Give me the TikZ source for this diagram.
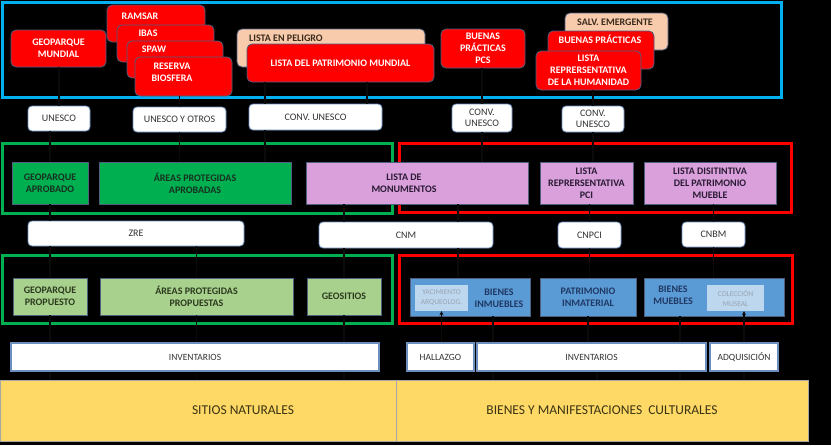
\documentclass[tikz,border=0pt]{standalone}
\usepackage{fontspec}
\setmainfont{Carlito}
\usetikzlibrary{arrows.meta}
\definecolor{boxred}{HTML}{FF0000}
\definecolor{bcol}{HTML}{4E5F80}
\definecolor{peachc}{HTML}{F8CBAD}
\definecolor{peachtxt}{HTML}{3A2A1A}
\definecolor{wborder}{HTML}{6C8EBF}
\definecolor{wtxt}{HTML}{333333}
\definecolor{greenA}{HTML}{00B050}
\definecolor{greentxt}{HTML}{173020}
\definecolor{violetA}{HTML}{D9A0DC}
\definecolor{violettxt}{HTML}{2A1A33}
\definecolor{lgreen}{HTML}{A9D18E}
\definecolor{lgtxt}{HTML}{2B3A1E}
\definecolor{blueA}{HTML}{5B9BD5}
\definecolor{bluetxt}{HTML}{1F3864}
\definecolor{lblue}{HTML}{BDD7EE}
\definecolor{lbtxt}{HTML}{98A4B2}
\definecolor{yellowA}{HTML}{FFD966}
\definecolor{ytxt}{HTML}{3A3414}
\definecolor{frameblue}{HTML}{00B0F0}
\definecolor{framegreen}{HTML}{00B050}
\definecolor{framered}{HTML}{FF0000}
\definecolor{conncol}{HTML}{0A0A0A}
\newcommand{\mkbox}[7]{\node[#1, minimum width={(#4-#2)*1pt}, minimum height={(#5-#3)*1pt}, inner sep=0pt] (#6) at ({(#2+#4)/2},{(#3+#5)/2}) {#7};}
\tikzset{
  base/.style={draw=bcol, line width=0.8pt, align=center, font=\fontsize{10}{11.5}\selectfont},
  redbox/.style={base, fill=boxred, rounded corners=5pt, text=white, font=\bfseries\fontsize{10}{12.2}\selectfont},
  peachbox/.style={base, fill=peachc, rounded corners=5pt, text=peachtxt, font=\bfseries\fontsize{10}{12}\selectfont},
  rtext/.style={text=white, font=\bfseries\fontsize{10}{12.2}\selectfont, align=center, inner sep=0pt},
  ptext/.style={text=peachtxt, font=\bfseries\fontsize{10}{12}\selectfont, inner sep=0pt},
  wbox/.style={base, fill=white, draw=wborder, rounded corners=4pt, text=wtxt},
  wsq/.style={base, fill=white, draw=wborder, line width=1.2pt, text=wtxt, font=\fontsize{9.5}{11}\selectfont},
  gbox/.style={base, fill=greenA, text=greentxt, font=\bfseries\fontsize{10}{12}\selectfont},
  vbox/.style={base, fill=violetA, text=violettxt, font=\bfseries\fontsize{10}{12}\selectfont},
  vtext/.style={text=violettxt, font=\bfseries\fontsize{10}{12}\selectfont, align=center, inner sep=0pt},
  lgbox/.style={base, fill=lgreen, text=lgtxt, font=\bfseries\fontsize{10}{12}\selectfont},
  bbox/.style={base, fill=blueA, text=bluetxt, font=\bfseries\fontsize{10}{12}\selectfont},
  btext/.style={text=bluetxt, font=\bfseries\fontsize{10}{12}\selectfont, align=center, inner sep=0pt},
  lbbox/.style={fill=lblue, text=lbtxt, align=center, font=\fontsize{7.5}{10}\selectfont},
  ybox/.style={fill=yellowA, draw=black!35, line width=0.5pt},
  ytext/.style={text=ytxt, font=\fontsize{13.5}{15}\selectfont},
  frameB/.style={draw=frameblue, line width=3pt},
  frameG/.style={draw=framegreen, line width=3pt},
  frameR/.style={draw=framered, line width=3pt},
  conn/.style={draw=conncol, line width=1.3pt},
  connarrow/.style={conn, -{Stealth[length=4pt,width=4pt]}}
}
\begin{document}
\begin{tikzpicture}[x=1pt,y=-1pt]
\fill[black] (0,0) rectangle (831,445);
\useasboundingbox (0,0) rectangle (831,445);

% frames
\mkbox{frameB}{2}{2}{781}{97}{fTop}{}
\mkbox{frameG}{2}{143}{392}{213}{fG1}{}
\mkbox{frameR}{399}{143}{791}{212}{fR1}{}
\mkbox{frameG}{2}{255}{392}{323}{fG2}{}
\mkbox{frameR}{399}{255}{792}{323}{fR2}{}

% top level
\mkbox{redbox}{11}{30}{106}{67}{gm}{GEOPARQUE\\MUNDIAL}
\mkbox{redbox}{107}{5}{205}{42}{ram}{}
\node[rtext] at (140,16) {RAMSAR};
\mkbox{redbox}{117}{25}{214}{62}{ibas}{}
\node[rtext] at (148,33) {IBAS};
\mkbox{redbox}{127}{41}{223}{78}{spaw}{}
\node[rtext] at (154,49) {SPAW};
\mkbox{redbox}{135}{57}{232}{96}{rb}{}
\node[rtext] at (172,72.5) {RESERVA\\BIOSFERA};

\mkbox{peachbox}{237}{29}{425}{67}{pel}{}
\node[ptext, anchor=west] at (249,38) {LISTA EN PELIGRO};
\mkbox{redbox}{247}{44}{434}{82}{lpm}{LISTA DEL PATRIMONIO MUNDIAL}

\mkbox{redbox}{441}{29}{525}{68}{bp}{BUENAS\\PRÁCTICAS\\PCS}

\mkbox{peachbox}{565}{13}{668}{50}{se}{}
\node[ptext] at (615,22) {SALV. EMERGENTE};
\mkbox{redbox}{548}{31}{654}{69}{bp2}{}
\node[rtext] at (600,39) {BUENAS PRÁCTICAS};
\mkbox{redbox}{536}{51}{641}{90}{lrh}{LISTA\\REPRERSENTATIVA\\DE LA HUMANIDAD}

% row 2
\mkbox{wbox}{28}{106}{90}{131}{un}{UNESCO}
\mkbox{wbox}{133}{107}{226}{132}{uo}{UNESCO Y OTROS}
\mkbox{wbox}{249}{104}{382}{130}{cu1}{CONV. UNESCO}
\mkbox{wbox}{452}{104}{512}{132}{cu2}{CONV.\\UNESCO}
\mkbox{wbox}{562}{106}{624}{132}{cu3}{CONV.\\UNESCO}

% row 3
\mkbox{gbox}{12}{162}{88}{204}{ga}{GEOPARQUE\\APROBADO}
\mkbox{gbox}{99}{162}{291}{204}{aa}{ÁREAS PROTEGIDAS\\APROBADAS}
\mkbox{vbox}{306}{162}{528}{204}{lm}{}
\node[vtext] at (404,183) {LISTA DE\\MONUMENTOS};
\mkbox{vbox}{540}{162}{633}{204}{lr}{LISTA\\REPRERSENTATIVA\\PCI}
\mkbox{vbox}{644}{162}{776}{204}{ld}{LISTA DISITINTIVA\\DEL PATRIMONIO\\MUEBLE}

% row 4
\mkbox{wbox}{28}{221}{244}{246}{zre}{ZRE}
\mkbox{wbox}{319}{222}{493}{248}{cnm}{CNM}
\mkbox{wbox}{558}{222}{621}{248}{cnpci}{CNPCI}
\mkbox{wbox}{682}{222}{745}{247}{cnbm}{CNBM}

% row 5
\mkbox{lgbox}{13}{278}{87}{315}{gp}{GEOPARQUE\\PROPUESTO}
\mkbox{lgbox}{100}{278}{293}{315}{ap}{ÁREAS PROTEGIDAS\\PROPUESTAS}
\mkbox{lgbox}{307}{278}{381}{315}{gs}{GEOSITIOS}
\mkbox{bbox}{410}{278}{530}{316}{bi}{}
\mkbox{lbbox}{415}{285}{468}{311}{ya}{YACIMIENTO\\ARQUEOLOG.}
\node[btext] at (499,298) {BIENES\\INMUEBLES};
\mkbox{bbox}{540}{278}{636}{316}{pi}{PATRIMONIO\\INMATERIAL}
\mkbox{bbox}{644}{278}{784}{316}{bm}{}
\node[btext] at (673,295) {BIENES\\MUEBLES};
\mkbox{lbbox}{707}{285}{764}{311}{cm}{COLECCIÓN\\MUSEAL}

% row 6
\mkbox{wsq}{11}{343}{379}{371}{inv1}{INVENTARIOS}
\mkbox{wsq}{407}{343}{474}{371}{ha}{HALLAZGO}
\mkbox{wsq}{477}{343}{706}{371}{inv2}{INVENTARIOS}
\mkbox{wsq}{710}{343}{778}{371}{adq}{ADQUISICIÓN}

% row 7
\mkbox{ybox}{0}{380}{396}{441}{nat}{}
\mkbox{ybox}{396}{380}{808}{441}{cul}{}
\node[ytext] at ([xshift=45pt]nat.center) {SITIOS NATURALES};
\node[ytext] at (cul.center) {BIENES Y MANIFESTACIONES\ \ CULTURALES};

% column coordinates
\coordinate (k265) at (265,0);
\coordinate (k367) at (367,0);
\coordinate (k458) at (458,0);
\coordinate (k493) at (493,0);
\coordinate (k597) at (597,0);
\coordinate (k680) at (680,0);

% connectors
\draw[conn] (un.north) -- (un.north |- gm.south);
\draw[conn] (uo.north) -- (uo.north |- rb.south);
\draw[conn] (k265 |- cu1.north) -- (k265 |- lpm.south);
\draw[conn] (k367 |- cu1.north) -- (k367 |- lpm.south);
\draw[conn] (cu2.north) -- (cu2.north |- bp.south);
\draw[conn] (cu3.north) -- (cu3.north |- lrh.south);

\draw[conn] (ga.north) -- (ga.north |- un.south);
\draw[conn] (uo.south) -- (uo.south |- aa.north);
\draw[conn] (k265 |- cu1.south) -- (k265 |- aa.north);
\draw[conn] (cu2.south) -- (cu2.south |- lm.north);
\draw[conn] (cu3.south) -- (cu3.south |- lr.north);

\draw[conn] (ga.south) -- (ga.south |- zre.north);
\draw[conn] (gs.north |- lm.south) -- (gs.north |- cnm.north);
\draw[conn] (k458 |- lm.south) -- (k458 |- cnm.north);
\draw[conn] (cnpci.north) -- (cnpci.north |- lr.south);
\draw[conn] (cnbm.north) -- (cnbm.north |- ld.south);

\draw[conn] (gp.north) -- (gp.north |- zre.south);
\draw[conn] (ap.north) -- (ap.north |- zre.south);
\draw[conn] (gs.north) -- (gs.north |- cnm.south);
\draw[conn] (k458 |- cnm.south) -- (k458 |- bi.north);
\draw[conn] (cnpci.south) -- (cnpci.south |- pi.north);
\draw[conn] (cnbm.south) -- (cnbm.south |- bm.north);

\draw[conn] (gp.south) -- (gp.south |- inv1.north);
\draw[conn] (ap.south) -- (ap.south |- inv1.north);
\draw[conn] (gs.south) -- (gs.south |- inv1.north);
\draw[connarrow] (ya.south |- ha.north) -- (ya.south);
\draw[conn] (k493 |- inv2.north) -- (k493 |- bi.south);
\draw[conn] (pi.south) -- (pi.south |- inv2.north);
\draw[conn] (k680 |- inv2.north) -- (k680 |- bm.south);
\draw[connarrow] (adq.north) -- (adq.north |- cm.south);

\draw[conn] (gp.south |- inv1.south) -- (gp.south |- nat.north);
\draw[conn] (ap.south |- inv1.south) -- (ap.south |- nat.north);
\draw[conn] (gs.south |- inv1.south) -- (gs.south |- nat.north);
\draw[conn] (k493 |- inv2.south) -- (k493 |- cul.north);
\draw[conn] (k597 |- inv2.south) -- (k597 |- cul.north);
\draw[conn] (k680 |- inv2.south) -- (k680 |- cul.north);
\draw[conn] (adq.south) -- (adq.south |- cul.north);
\end{tikzpicture}
\end{document}
